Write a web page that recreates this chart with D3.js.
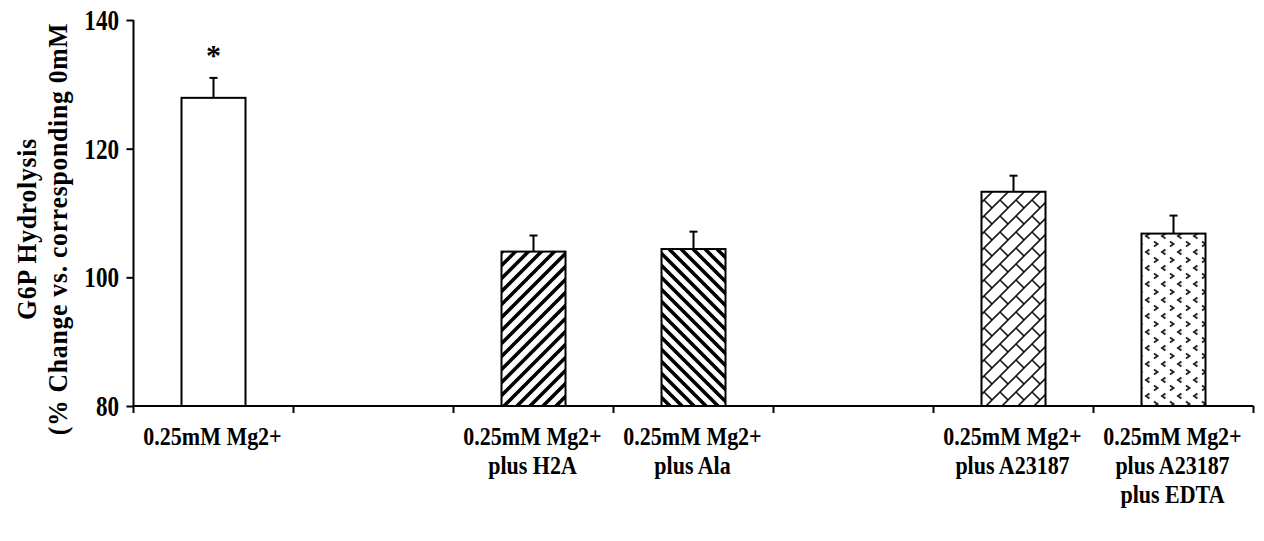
<!DOCTYPE html>
<html>
<head>
<meta charset="utf-8">
<script src="https://cdn.jsdelivr.net/npm/d3@7/dist/d3.min.js"></script>
<style>
  html, body { margin: 0; padding: 0; background: #fff; }
  svg { display: block; }
  text { font-family: "Liberation Serif", "Times New Roman", serif; font-weight: bold; fill: #000; }
</style>
</head>
<body>
<svg id="chart" width="1264" height="541"></svg>
<script>
// Slots along the x axis (two empty spacer slots separate the groups)
const categories = ["mg", "gap1", "h2a", "ala", "gap2", "a23187", "edta"];
const categoryLabels = [
  ["0.25mM Mg2+"],
  [],
  ["0.25mM Mg2+", "plus H2A"],
  ["0.25mM Mg2+", "plus Ala"],
  [],
  ["0.25mM Mg2+", "plus A23187"],
  ["0.25mM Mg2+", "plus A23187", "plus EDTA"]
];
// G6P hydrolysis, % of corresponding 0 mM
const values = [127.9, null, 104.0, 104.4, null, 113.3, 106.8];
const errors = [3.1, null, 2.5, 2.7, null, 2.5, 2.8];
const significance = ["*", "", "", "", "", "", ""];
const fills = ["white", null, "stripeUp", "stripeDown", null, "brick", "divot"];
const yTicks = [80, 100, 120, 140];
const yTitle = ["G6P Hydrolysis", "(% Change vs. corresponding 0mM"];

const svg = d3.select("#chart");

const y = d3.scaleLinear().domain([80, 140]).range([406, 20]);
const x = d3.scaleBand().domain(categories).range([133.5, 1253.5])
  .paddingInner(0.6).paddingOuter(0.3);

// ---- fill patterns ----
const defs = svg.append("defs");

function stripes(id, size, up) {
  const p = defs.append("pattern").attr("id", id)
    .attr("patternUnits", "userSpaceOnUse")
    .attr("width", size).attr("height", size);
  p.append("rect").attr("width", size).attr("height", size).attr("fill", "#fff");
  const d = up
    ? `M${-size},${size} L${size},${-size} M0,${2 * size} L${2 * size},0 M${-size},${2 * size} L${2 * size},${-size}`
    : `M${-size},0 L${size},${2 * size} M0,${-size} L${2 * size},${size} M${-size},${-size} L${2 * size},${2 * size}`;
  p.append("path").attr("d", d).attr("stroke", "#000").attr("stroke-width", 3.6).attr("fill", "none");
}
stripes("stripeUp", 13, true);
stripes("stripeDown", 12, false);

// diagonal brick
(function () {
  const s = 16;
  const p = defs.append("pattern").attr("id", "brick")
    .attr("patternUnits", "userSpaceOnUse").attr("width", s).attr("height", s);
  p.append("rect").attr("width", s).attr("height", s).attr("fill", "#fff");
  p.append("path")
    .attr("d", `M-2,${s + 2} L${s + 2},-2 M-2,2 L2,-2 M${s - 2},${s + 2} L${s + 2},${s - 2} M${s / 2},${s / 2} L${s},${s}`)
    .attr("stroke", "#1a1a1a").attr("stroke-width", 1.6).attr("fill", "none");
})();

// divot: alternating rows of small chevrons
(function () {
  const w = 16, h = 16;
  const p = defs.append("pattern").attr("id", "divot")
    .attr("patternUnits", "userSpaceOnUse").attr("width", w).attr("height", h);
  p.append("rect").attr("width", w).attr("height", h).attr("fill", "#fff");
  p.append("path")
    .attr("d", "M2,1.5 L5.5,4 L2,6.5 M13.5,9.5 L10,12 L13.5,14.5")
    .attr("stroke", "#222").attr("stroke-width", 1.9).attr("fill", "none");
})();

const rows = categories.map((c, i) => ({
  key: c, value: values[i], err: errors[i], sig: significance[i],
  fill: fills[i], lines: categoryLabels[i]
}));
const bars = rows.filter(d => d.value != null);

// ---- bars ----
svg.append("g").selectAll("rect").data(bars).join("rect")
  .attr("x", d => x(d.key))
  .attr("y", d => y(d.value))
  .attr("width", x.bandwidth())
  .attr("height", d => y(80) - y(d.value))
  .attr("fill", d => d.fill === "white" ? "#fff" : `url(#${d.fill})`)
  .attr("stroke", "#000").attr("stroke-width", 2);

// ---- error bars (upper only) ----
const eb = svg.append("g").attr("stroke", "#000").attr("stroke-width", 2);
eb.selectAll("line.v").data(bars).join("line").attr("class", "v")
  .attr("x1", d => x(d.key) + x.bandwidth() / 2)
  .attr("x2", d => x(d.key) + x.bandwidth() / 2)
  .attr("y1", d => y(d.value)).attr("y2", d => y(d.value + d.err));
eb.selectAll("line.c").data(bars).join("line").attr("class", "c")
  .attr("x1", d => x(d.key) + x.bandwidth() / 2 - 4)
  .attr("x2", d => x(d.key) + x.bandwidth() / 2 + 4)
  .attr("y1", d => y(d.value + d.err)).attr("y2", d => y(d.value + d.err));

// significance marks
svg.append("g").selectAll("text").data(bars.filter(d => d.sig)).join("text")
  .attr("x", d => x(d.key) + x.bandwidth() / 2)
  .attr("y", d => y(d.value + d.err) - 13)
  .attr("text-anchor", "middle")
  .style("font-size", "30px")
  .text(d => d.sig);

// ---- y axis ----
const yAxis = svg.append("g").attr("transform", "translate(133.5,0)")
  .call(d3.axisLeft(y).tickValues(yTicks).tickSize(7).tickFormat(""));
yAxis.select(".domain").attr("stroke", "#000").attr("stroke-width", 2).attr("d", `M0,${y(140)}V${y(80)}`);
yAxis.selectAll(".tick line").attr("stroke", "#000").attr("stroke-width", 2);

svg.append("g").selectAll("text").data(yTicks).join("text")
  .attr("transform", d => `translate(119,${y(d) + 10}) scale(1.05,1.35)`)
  .attr("text-anchor", "end")
  .style("font-size", "22px")
  .text(d => d);

// ---- x axis ----
const xLine = svg.append("g").attr("stroke", "#000").attr("stroke-width", 2);
const [x0, x1] = x.range();
xLine.append("line").attr("x1", x0).attr("x2", x1).attr("y1", y(80)).attr("y2", y(80));
const bounds = d3.range(categories.length + 1).map(i => x0 + i * x.step());
xLine.selectAll("line.t").data(bounds).join("line").attr("class", "t")
  .attr("x1", d => d).attr("x2", d => d)
  .attr("y1", y(80)).attr("y2", y(80) + 7);

const lab = svg.append("g").selectAll("g").data(rows.filter(d => d.lines.length)).join("g");
lab.selectAll("text").data(d => d.lines.map((t, j) => ({ t, j, cx: x(d.key) + x.bandwidth() / 2 })))
  .join("text")
  .attr("transform", d => `translate(${d.cx - 1},${445 + d.j * 29}) scale(1,1.15)`)
  .attr("text-anchor", "middle")
  .style("font-size", "22px")
  .text(d => d.t);

// ---- y title (two rotated lines) ----
svg.append("g").selectAll("text").data(yTitle).join("text")
  .attr("transform", (d, i) => `translate(${i === 0 ? 36 : 67},229) rotate(-90) scale(0.95,1.05)`)
  .attr("text-anchor", "middle")
  .style("font-size", "27px")
  .style("letter-spacing", "0.8px")
  .text(d => d);
</script>
</body>
</html>
